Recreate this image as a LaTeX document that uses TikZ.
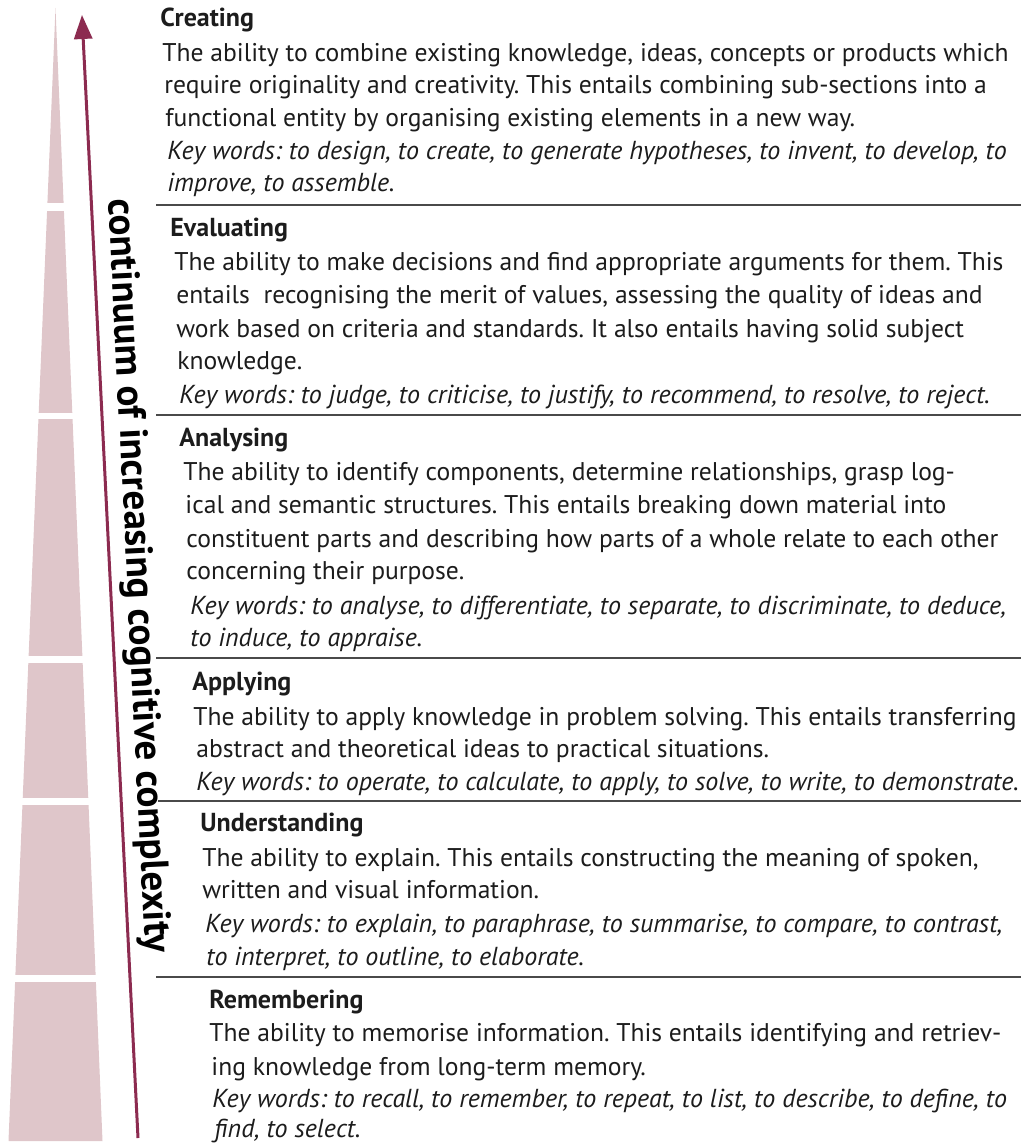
\documentclass[tikz,border=0pt]{standalone}
\usepackage{fontspec}
\setmainfont{PT Sans}
\usetikzlibrary{arrows.meta, positioning}
\frenchspacing

\definecolor{stepfill}{HTML}{DFC6CA}
\definecolor{arrowred}{HTML}{8C2B50}
\definecolor{ruleline}{HTML}{4A4A4A}
\definecolor{inktext}{HTML}{1C1C1C}

\tikzset{
  head/.style={anchor=base west, inner sep=0pt, text=inktext, font=\fontsize{13}{15}\selectfont\bfseries},
  txt/.style={anchor=base west, inner sep=0pt, text=inktext, font=\fontsize{12.8}{15}\selectfont},
  keys/.style={anchor=base west, inner sep=0pt, text=inktext, font=\fontsize{13}{15}\selectfont\itshape},
  sep/.style={draw=ruleline, line width=1pt},
  gap/.style={fill=white, draw=none}
}

\begin{document}
\begin{tikzpicture}[x=0.5pt, y=-0.5pt]
\useasboundingbox (0,0) rectangle (1021,1144);

% pyramid of levels
\fill[stepfill] (55.5,8) -- (102.5,1141) -- (8.5,1141) -- cycle;
\fill[gap] (0,203) rectangle (120,211);
\fill[gap] (0,413) rectangle (120,419);
\fill[gap] (0,656) rectangle (120,663);
\fill[gap] (0,798) rectangle (120,805);
\fill[gap] (0,975) rectangle (120,982);

% arrow
\coordinate (arrow bottom) at (138,1138);
\coordinate (arrow top) at (82,15);
\draw[arrowred, line width=1.5pt, -{Triangle[length=12pt, width=9pt]}] (arrow bottom) -- (arrow top);
\node[rotate=-87.2, text=black, inner sep=0pt, font=\fontsize{19.5}{22}\selectfont\bfseries] (continuum) at (137,576) {continuum of increasing cognitive complexity};

% separators
\coordinate (s1) at (156,205); \coordinate (s1e) at (1021,205);
\coordinate (s2) at (156,415); \coordinate (s2e) at (1021,415);
\coordinate (s3) at (156,658); \coordinate (s3e) at (1021,658);
\coordinate (s4) at (158,801); \coordinate (s4e) at (1021,801);
\coordinate (s5) at (156,977); \coordinate (s5e) at (1021,977);
\draw[sep] (s1) -- (s1e);
\draw[sep] (s2) -- (s2e);
\draw[sep] (s3) -- (s3e);
\draw[sep] (s4) -- (s4e);
\draw[sep] (s5) -- (s5e);

% Creating
\node[head] (cre) at (160,27) {Creating};
\node[txt] (cre1) at (162,62) {The ability to combine existing knowledge, ideas, concepts or products which};
\node[txt] (cre2) at (164,94) {require originality and creativity. This entails combining sub-sections into a};
\node[txt] (cre3) at (165,127) {functional entity by organising existing elements in a new way.};
\node[keys] (cre4) at (167,160) {Key words: to design, to create, to generate hypotheses, to invent, to develop, to};
\node[keys] (cre5) at (167,192) {improve, to assemble.};

% Evaluating
\node[head] (eva) at (170,237) {Evaluating};
\node[txt] (eva1) at (174,271) {The ability to make decisions and find appropriate arguments for them. This};
\node[txt] (eva2) at (176,304) {entails~ recognising the merit of values, assessing the quality of ideas and};
\node[txt] (eva3) at (176,337) {work based on criteria and standards. It also entails having solid subject};
\node[txt] (eva4) at (177,369) {knowledge.};
\node[keys] (eva5) at (179,403) {Key words: to judge, to criticise, to justify, to recommend, to resolve, to reject.};

% Analysing
\node[head] (ana) at (179,446) {Analysing};
\node[txt] (ana1) at (183,480) {The ability to identify components, determine relationships, grasp log-};
\node[txt] (ana2) at (185,513) {ical and semantic structures. This entails breaking down material into};
\node[txt] (ana3) at (186,547) {constituent parts and describing how parts of a whole relate to each other};
\node[txt] (ana4) at (186,579) {concerning their purpose.};
\node[keys] (ana5) at (190,614) {Key words: to analyse, to differentiate, to separate, to discriminate, to deduce,};
\node[keys] (ana6) at (190,646) {to induce, to appraise.};

% Applying
\node[head] (app) at (192,690) {Applying};
\node[txt] (app1) at (193,725) {The ability to apply knowledge in problem solving. This entails transferring};
\node[txt] (app2) at (196,757) {abstract and theoretical ideas to practical situations.};
\node[keys] (app3) at (196,790) {Key words: to operate, to calculate, to apply, to solve, to write, to demonstrate.};

% Understanding
\node[head] (und) at (200,831) {Understanding};
\node[txt] (und1) at (202,866) {The ability to explain. This entails constructing the meaning of spoken,};
\node[txt] (und2) at (202,898) {written and visual information.};
\node[keys] (und3) at (205,932) {Key words: to explain, to paraphrase, to summarise, to compare, to contrast,};
\node[keys] (und4) at (206,965) {to interpret, to outline, to elaborate.};

% Remembering
\node[head] (rem) at (209,1008) {Remembering};
\node[txt] (rem1) at (209,1041) {The ability to memorise information. This entails identifying and retriev-};
\node[txt] (rem2) at (211,1075) {ing knowledge from long-term memory.};
\node[keys] (rem3) at (212,1107) {Key words: to recall, to remember, to repeat, to list, to describe, to define, to};
\node[keys] (rem4) at (214,1137) {find, to select.};

\end{tikzpicture}
\end{document}
